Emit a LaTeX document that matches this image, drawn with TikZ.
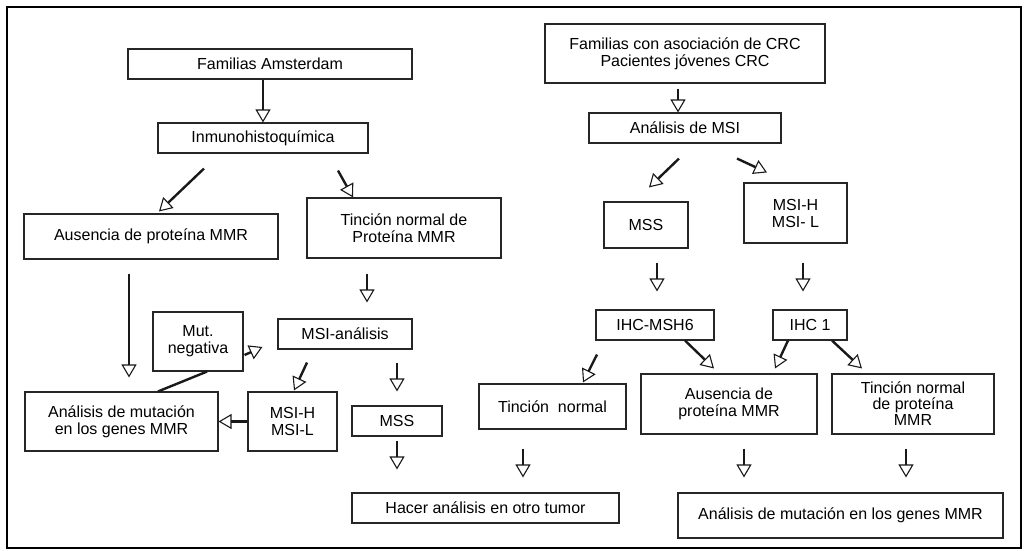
\documentclass[tikz,border=0pt]{standalone}
\usepackage{fontspec}
\setmainfont{Liberation Sans}
\usetikzlibrary{calc,arrows.meta}

\tikzset{
  box/.style={draw=black!85, line width=1.1pt, inner sep=0pt, align=center,
    font=\fontsize{16}{17}\selectfont},
  arr/.style={line width=2.4pt, black!90,
    -{Triangle[open, length=13pt, width=15pt, line width=1.1pt]}},
  lnk/.style={line width=2.4pt, black!90}
}

\begin{document}
\begin{tikzpicture}[x=1pt, y=-1pt]
        \useasboundingbox (0,0) rectangle (1028,550);
        \draw[line width=2pt] (7,7) rectangle (1021,548);
        % left branch
        \node[box, minimum width=284pt, minimum height=30pt] (fam) at (270,64) {Familias Amsterdam};
        \node[box, minimum width=210pt, minimum height=30pt] (inm) at (263,138) {Inmunohistoquímica};
        \node[box, minimum width=254pt, minimum height=45pt] (ausL) at (151,236.5) {Ausencia de proteína MMR};
        \node[box, minimum width=194pt, minimum height=60pt] (tinL) at (404,228) {Tinción normal de\\Proteína MMR};
        \node[box, minimum width=90pt, minimum height=59pt] (mut) at (198,341.5) {Mut.\\negativa};
        \node[box, minimum width=134pt, minimum height=30pt] (msiA) at (345,334) {MSI-análisis};
        \node[box, minimum width=193pt, minimum height=59pt] (anaL) at (121.5,421.5) {Análisis de mutación\\en los genes MMR};
        \node[box, minimum width=89pt, minimum height=59pt] (msiHL) at (292.5,421.5) {MSI-H\\MSI-L};
        \node[box, minimum width=90pt, minimum height=30pt] (mssL) at (397,421) {MSS};
        \node[box, minimum width=267pt, minimum height=30pt] (hacer) at (485.5,508) {Hacer análisis en otro tumor};
        % right branch
        \node[box, minimum width=280pt, minimum height=59pt] (famR) at (685,53.5) {Familias con asociación de CRC\\Pacientes jóvenes CRC};
        \node[box, minimum width=192pt, minimum height=30pt] (anaMSI) at (685,128) {Análisis de MSI};
        \node[box, minimum width=84pt, minimum height=46pt] (mssR) at (646,225) {MSS};
        \node[box, minimum width=103pt, minimum height=60pt] (msiR) at (795.5,213) {MSI-H\\MSI- L};
        \node[box, minimum width=118pt, minimum height=30pt] (ihc6) at (655,325) {IHC-MSH6};
        \node[box, minimum width=74pt, minimum height=30pt] (ihc1) at (810,325) {IHC 1};
        \node[box, minimum width=147pt, minimum height=45pt] (tinN) at (552.5,406.5) {Tinción\ \ normal};
        \node[box, minimum width=176pt, minimum height=60pt] (ausR) at (729,404) {Ausencia de\\proteína MMR};
        \node[box, minimum width=162pt, minimum height=60pt, font=\fontsize{16}{16}\selectfont] (tinR) at (913,404) {Tinción normal\\de proteína\\MMR};
        \node[box, minimum width=325pt, minimum height=45pt] (anaR) at (840.5,515.5) {Análisis de mutación en los genes MMR};

        % arrows left
        \draw[arr] (fam.south -| inm.north) -- (inm.north);
        \draw[arr] ($(inm.south)+(-59,15)$) -- ($(ausL.north)+(8,-2)$);
        \draw[arr] ($(inm.south)+(75,17)$) -- ($(tinL.north)+(-51,0)$);
        \draw[arr] ($(ausL.south)+(-22,14)$) -- ($(anaL.north)+(7.5,-14)$);
        \draw[arr] ($(tinL.south)+(-37,15)$) -- ($(msiA.north)+(22,-16)$);
        \draw[arr] ($(mut.east)+(1,13.5)$) -- ($(msiA.west)+(-15,13)$);
        \draw[lnk] ($(anaL.north)+(36.5,0)$) -- ($(mut.south)+(9,0)$);
        \draw[arr] ($(msiA.south)+(-38,13)$) -- ($(msiHL.north)+(1.5,-1)$);
        \draw[arr] ($(msiA.south)+(52,13)$) -- ($(mssL.north)+(0,-14)$);
        \draw[arr] (msiHL.west) -- (anaL.east);
        \draw[arr] ($(mssL.south)+(0,4)$) -- ($(hacer.north)+(-88.5,-23)$);
        % arrows right
        \draw[arr] ($(famR.south)+(-7,5)$) -- ($(anaMSI.north)+(-7,0)$);
        \draw[arr] ($(anaMSI.south)+(-6,15)$) -- ($(mssR.north)+(3,-14)$);
        \draw[arr] ($(anaMSI.south)+(52,15)$) -- ($(msiR.north)+(-28.5,-10)$);
        \draw[arr] ($(mssR.south)+(11,14)$) -- ($(ihc6.north)+(2,-18)$);
        \draw[arr] ($(msiR.south)+(7.5,19)$) -- ($(ihc1.north)+(-7,-18)$);
        \draw[arr] ($(ihc6.south)+(-58,14)$) -- ($(tinN.north)+(30.5,-1)$);
        \draw[arr] ($(ihc6.south)+(30,0)$) -- ($(ausR.north)+(-15,-5)$);
        \draw[arr] ($(ihc1.south)+(-22,0)$) -- ($(ausR.north)+(46,-5)$);
        \draw[arr] ($(ihc1.south)+(22,0)$) -- ($(tinR.north)+(-51,-5)$);
        \draw[arr] ($(tinN.south)+(-29.5,19)$) -- ($(hacer.north)+(37.5,-15)$);
        \draw[arr] ($(ausR.south)+(15,14)$) -- ($(anaR.north)+(-96.5,-15)$);
        \draw[arr] ($(tinR.south)+(-7,14)$) -- ($(anaR.north)+(65.5,-15)$);
\end{tikzpicture}
\end{document}
